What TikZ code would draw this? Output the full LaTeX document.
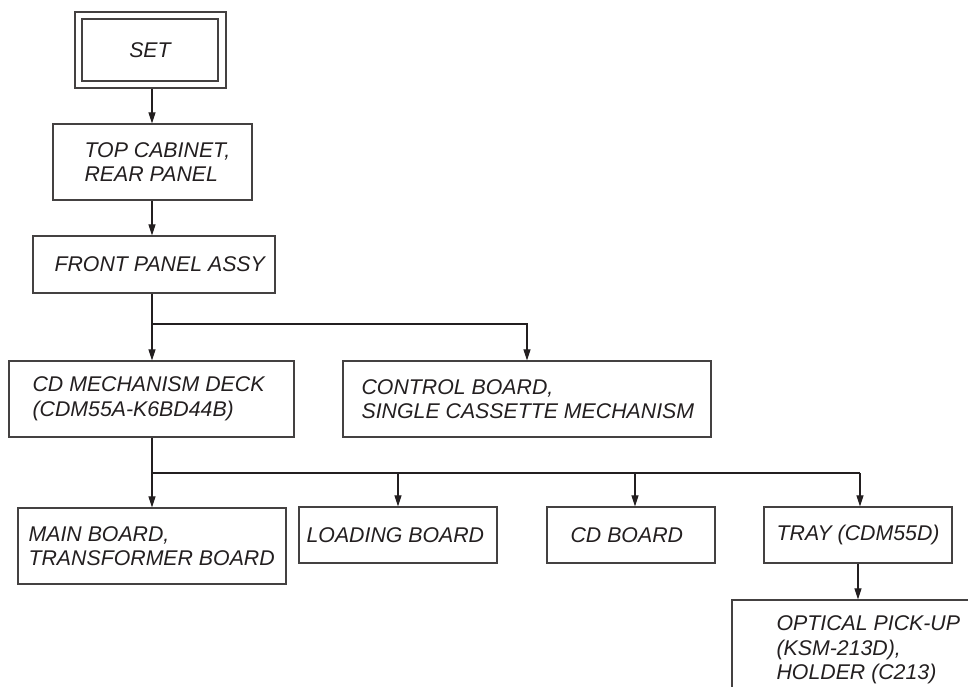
\documentclass[tikz,border=0pt]{standalone}
\usepackage{fontspec}
\setmainfont{Liberation Sans}
\usetikzlibrary{arrows.meta}
\definecolor{ink}{RGB}{35,31,32}
\begin{document}
\begin{tikzpicture}[x=1pt,y=-1pt,
  box/.style={draw=ink!85, line width=1.2pt, inner sep=0pt, fill=none},
  lbl/.style={align=left, inner sep=0pt, text=ink,
    font=\fontsize{21.3}{24.5}\selectfont\itshape},
  conn/.style={draw=ink, line width=1.1pt},
  arr/.style={conn, -{Triangle[length=11pt,width=7pt]}}]
\clip (0,0) rectangle (968,686);
\fill[white] (0,0) rectangle (968,686);

% SET (double box)
\node[box, minimum width=151, minimum height=76] (setout) at (150.5,50) {};
\node[box, minimum width=136, minimum height=62] (set) at (150,50) {};
\node[lbl] (set-t) at (set.center) {SET};

% boxes
\node[box, minimum width=199, minimum height=76] (top) at (152.5,162) {};
\node[lbl, anchor=west] (top-t) at ([xshift=32pt]top.west) {TOP CABINET,\\REAR PANEL};

\node[box, minimum width=242, minimum height=57] (front) at (154,264.5) {};
\node[lbl, anchor=west] (front-t) at ([xshift=22pt]front.west) {FRONT PANEL ASSY};

\node[box, minimum width=285, minimum height=76] (cdm) at (151.5,399) {};
\node[lbl, anchor=west] (cdm-t) at ([xshift=24pt]cdm.west) {CD MECHANISM DECK\\(CDM55A-K6BD44B)};

\node[box, minimum width=368, minimum height=76] (ctrl) at (527,399) {};
\node[lbl, anchor=west] (ctrl-t) at ([xshift=19pt]ctrl.west) {CONTROL BOARD,\\SINGLE CASSETTE MECHANISM};

\node[box, minimum width=268, minimum height=76] (main) at (152,546) {};
\node[lbl, anchor=west] (main-t) at ([xshift=11pt]main.west) {MAIN BOARD,\\TRANSFORMER BOARD};

\node[box, minimum width=198, minimum height=56] (load) at (398,535) {};
\node[lbl, anchor=west] (load-t) at ([xshift=8pt]load.west) {LOADING BOARD};

\node[box, minimum width=168, minimum height=56] (cdb) at (631,535) {};
\node[lbl, anchor=west] (cdb-t) at ([xshift=24pt]cdb.west) {CD BOARD};

\node[box, minimum width=188, minimum height=56] (tray) at (858,535) {};
\node[lbl, anchor=west] (tray-t) at ([xshift=13pt]tray.west) {TRAY (CDM55D)};

\node[box, minimum width=278, minimum height=100] (opt) at (871,650) {};
\node[lbl, anchor=west] (opt-t) at ([xshift=45pt]opt.west) {OPTICAL PICK-UP\\(KSM-213D),\\HOLDER (C213)};

% junctions
\coordinate (t0) at (152,0);
\coordinate (t1) at (152,324);
\coordinate (t2) at (152,473);

% connectors
\draw[arr] (setout.south -| t0) -- (top.north -| t0);
\draw[arr] (top.south -| t0) -- (front.north -| t0);
\draw[conn] (front.south -| t1) -- (t1);
\draw[arr] (t1) -- (cdm.north -| t1);
\draw[arr] (t1) -| (ctrl.north);
\draw[conn] (cdm.south -| t2) -- (t2) -- (t2 -| 860,0);
\draw[arr] (t2) -- (main.north -| t2);
\draw[arr] (t2 -| load.north) -- (load.north);
\draw[arr] (t2 -| 635,0) -- (cdb.north -| 635,0);
\draw[arr] (t2 -| 860,0) -- (tray.north -| 860,0);
\draw[arr] (tray.south) -- (opt.north -| tray.south);
\end{tikzpicture}
\end{document}
